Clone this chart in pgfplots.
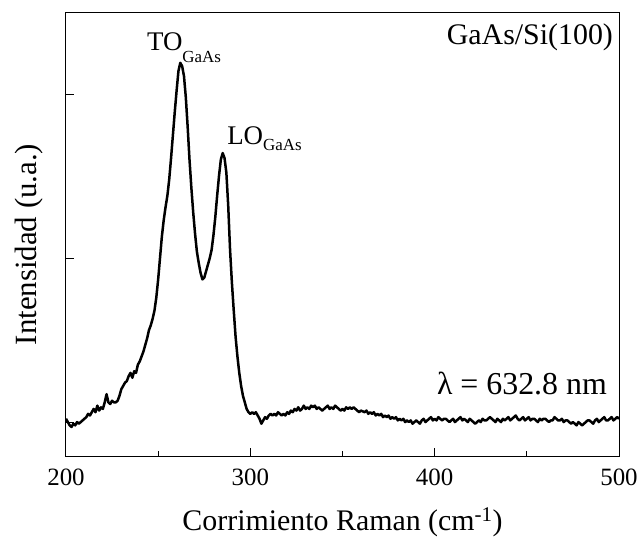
\documentclass[border=0pt]{standalone}
\usepackage{pgfplots}
\pgfplotsset{compat=1.18}
\usepackage{fontspec}
\setmainfont{Liberation Serif}

\pgfplotstableread{
x y
200 0.02
201 0.00
202 -0.02
203 -0.03
204 -0.01
205 -0.02
206 0.00
207 -0.01
208 0.00
209 0.01
210 0.02
211 0.03
212 0.05
213 0.04
214 0.06
215 0.08
216 0.06
217 0.10
218 0.07
219 0.09
220 0.08
221 0.12
222 0.17
223 0.12
224 0.11
225 0.13
226 0.12
227 0.12
228 0.13
229 0.16
230 0.20
231 0.22
232 0.24
233 0.25
234 0.28
235 0.30
236 0.27
237 0.31
238 0.30
239 0.35
240 0.37
241 0.40
242 0.43
243 0.47
244 0.51
245 0.56
246 0.59
247 0.63
248 0.68
249 0.76
250 0.87
251 1.00
252 1.13
253 1.23
254 1.31
255 1.38
256 1.48
257 1.61
258 1.75
259 1.89
260 2.02
261 2.14
262 2.19
263 2.17
264 2.11
265 1.98
266 1.80
267 1.60
268 1.43
269 1.28
270 1.15
271 1.04
272 0.97
273 0.91
274 0.87
275 0.88
276 0.92
277 0.96
278 1.00
279 1.05
280 1.14
281 1.25
282 1.38
283 1.50
284 1.60
285 1.64
286 1.61
287 1.52
288 1.32
289 1.05
290 0.85
291 0.68
292 0.52
293 0.40
294 0.30
295 0.22
296 0.16
297 0.12
298 0.08
299 0.06
300 0.05
301 0.06
302 0.05
303 0.06
304 0.04
305 0.02
306 -0.01
307 0.01
308 0.03
309 0.02
310 0.04
311 0.05
312 0.04
313 0.05
314 0.04
315 0.06
316 0.05
317 0.04
318 0.05
319 0.04
320 0.06
321 0.05
322 0.07
323 0.06
324 0.08
325 0.07
326 0.09
327 0.07
328 0.08
329 0.10
330 0.08
331 0.09
332 0.08
333 0.10
334 0.09
335 0.10
336 0.08
337 0.09
338 0.08
339 0.07
340 0.08
341 0.09
342 0.10
343 0.08
344 0.09
345 0.08
346 0.10
347 0.09
348 0.08
349 0.07
350 0.08
351 0.07
352 0.09
353 0.08
354 0.09
355 0.08
356 0.09
357 0.08
358 0.07
359 0.06
360 0.07
362 0.06
363 0.07
364 0.05
365 0.06
366 0.05
367 0.06
368 0.04
369 0.05
370 0.04
371 0.05
372 0.03
373 0.04
374 0.03
375 0.04
376 0.02
377 0.03
378 0.02
379 0.03
380 0.01
381 0.02
382 0.01
383 0.02
384 0.00
385 0.01
386 0.00
387 0.01
388 -0.01
389 0.00
390 0.01
391 0.00
392 -0.01
393 0.01
394 0.02
395 0.00
396 0.01
397 0.02
398 0.03
399 0.01
400 0.02
401 0.01
402 0.03
403 0.02
404 0.01
405 0.02
406 0.02
407 0.01
408 0.00
409 0.01
410 0.02
411 0.00
412 0.01
413 0.02
414 0.03
415 0.01
416 0.02
417 0.01
418 0.00
419 0.02
420 0.01
421 0.00
422 -0.01
423 0.00
424 0.01
425 0.00
426 0.02
427 0.01
428 0.01
429 0.02
430 0.03
431 0.02
432 0.01
433 0.00
434 0.02
435 0.01
436 0.00
437 0.02
438 0.01
439 0.02
440 0.03
441 0.01
442 0.02
443 0.03
444 0.04
445 0.02
446 0.01
447 0.02
448 0.03
449 0.01
450 0.02
451 0.03
452 0.01
453 0.02
454 0.02
455 0.01
456 0.00
457 0.02
458 0.01
459 0.02
460 0.02
461 0.01
462 0.00
463 0.01
464 0.01
465 0.03
466 0.02
467 0.01
468 0.01
469 0.02
470 0.00
471 0.01
472 0.01
473 0.00
474 -0.01
475 0.00
476 -0.01
477 -0.02
478 0.00
479 -0.01
480 -0.02
481 -0.01
482 0.00
483 0.01
484 0.01
485 0.00
486 -0.01
487 0.01
488 0.02
489 0.00
490 0.01
491 0.02
492 0.03
493 0.01
494 0.01
495 0.02
496 0.03
497 0.01
498 0.02
499 0.03
500 0.02
}\spectrum

\begin{document}
\begin{tikzpicture}
\begin{axis}[
  scale only axis,
  width=553bp, height=443bp,
  xmin=200, xmax=500,
  ymin=-0.207, ymax=2.494,
  xtick={200,300,400,500},
  minor xtick={250,350,450},
  ytick={0,1,2},
  yticklabels={},
  tick align=inside,
  xtick pos=bottom, ytick pos=left,
  major tick length=8bp, minor tick length=5bp,
  tick style={line width=1bp, black},
  axis line style={line width=1bp},
  /pgf/number format/assume math mode=true,
  xticklabel style={font=\fontsize{25}{25}\selectfont, yshift=-9bp},
  xlabel={Corrimiento Raman (cm\textsuperscript{-1})},
  ylabel={Intensidad (u.a.)},
  xlabel style={font=\fontsize{30}{30}\selectfont, yshift=-16bp},
  ylabel style={font=\fontsize{31}{31}\selectfont, yshift=13bp, xshift=-10bp},
  clip=true,
]
\addplot[black, line width=2.5bp, line join=round] table[x=x, y=y] {\spectrum};
\node[anchor=base west, inner sep=0pt, font=\fontsize{27}{27}\selectfont]
  at (axis cs:243.9,2.268) {TO\raisebox{-12bp}{\fontsize{17}{17}\selectfont GaAs}};
\node[anchor=base west, inner sep=0pt, font=\fontsize{27}{27}\selectfont]
  at (axis cs:287.4,1.690) {LO\raisebox{-6bp}{\fontsize{17}{17}\selectfont GaAs}};
\node[anchor=base east, inner sep=0pt, font=\fontsize{30}{30}\selectfont]
  at (axis cs:496.8,2.299) {GaAs/Si(100)};
\node[anchor=base east, inner sep=0pt, font=\fontsize{32}{32}\selectfont]
  at (axis cs:493.5,0.165) {λ = 632.8 nm};
\end{axis}
\path (current axis.south west) ++(-66bp,-81bp) rectangle ++(641bp,537bp);
\end{tikzpicture}
\end{document}
